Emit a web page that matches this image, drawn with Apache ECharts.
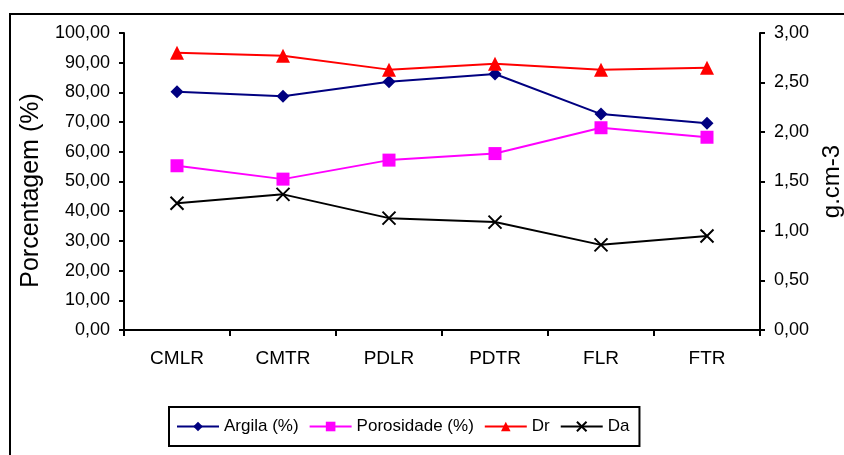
<!DOCTYPE html>
<html>
<head>
<meta charset="utf-8">
<script src="https://cdn.jsdelivr.net/npm/echarts@6/dist/echarts.min.js"></script>
<style>
  html, body { margin: 0; padding: 0; background: #fff; }
  #chart { width: 844px; height: 455px; }
</style>
</head>
<body>
<div id="chart"></div>
<script>
// Sampling sites
const categories = ['CMLR', 'CMTR', 'PDLR', 'PDTR', 'FLR', 'FTR'];

// Percentages (left axis)
const argila = [80.2, 78.7, 83.6, 86.2, 72.7, 69.6];
const porosidade = [55.3, 50.8, 57.2, 59.4, 68.1, 64.9];

// Densities in g.cm-3 (right axis)
const dr = [2.80, 2.77, 2.63, 2.69, 2.63, 2.65];
const da = [1.28, 1.37, 1.13, 1.09, 0.86, 0.95];

const FONT = '"Liberation Sans", Arial, sans-serif';
const fmt = v => v.toFixed(2).replace('.', ',');

const chart = echarts.init(document.getElementById('chart'), null, { renderer: 'canvas' });

const axisLine = { show: true, lineStyle: { color: '#000', width: 2 } };
const axisTick = { show: true, inside: false, length: 5, lineStyle: { color: '#000', width: 2 } };

chart.setOption({
  animation: false,
  backgroundColor: '#fff',
  textStyle: { fontFamily: FONT, color: '#000' },
  graphic: [{
    type: 'rect',
    shape: { x: 10, y: 14, width: 860, height: 480 },
    style: { fill: 'none', stroke: '#000', lineWidth: 2 },
    silent: true,
    z: -1
  }],
  grid: {
    left: 124, right: 84, top: 33, bottom: 125,
    containLabel: false,
    outerBoundsMode: 'none'
  },
  legend: {
    bottom: 9,
    left: 169,
    padding: [11, 10, 11, 7],
    borderColor: '#000',
    borderWidth: 2,
    itemWidth: 42,
    itemHeight: 12,
    itemGap: 10,
    textStyle: { fontFamily: FONT, fontSize: 17, color: '#000' },
    data: ['Argila (%)', 'Porosidade (%)', 'Dr', 'Da']
  },
  xAxis: {
    type: 'category',
    data: categories,
    boundaryGap: true,
    axisLine: axisLine,
    axisTick: { show: true, length: 6, lineStyle: { color: '#000', width: 2 } },
    axisLabel: { fontFamily: FONT, fontSize: 19, color: '#000', margin: 19 },
    splitLine: { show: false }
  },
  yAxis: [{
    type: 'value',
    min: 0, max: 100, interval: 10,
    position: 'left',
    name: 'Porcentagem (%)',
    nameLocation: 'middle',
    nameRotate: 90,
    nameGap: 79,
    nameTextStyle: { fontFamily: FONT, fontSize: 25, color: '#000', padding: [0, 18, 0, 0] },
    axisLine: axisLine,
    axisTick: axisTick,
    axisLabel: { fontFamily: FONT, fontSize: 18, color: '#000', margin: 14, formatter: fmt },
    splitLine: { show: false }
  }, {
    type: 'value',
    min: 0, max: 3, interval: 0.5,
    position: 'right',
    name: 'g.cm-3',
    nameLocation: 'middle',
    nameRotate: 90,
    nameGap: 58,
    nameTextStyle: { fontFamily: FONT, fontSize: 24, color: '#000' },
    axisLine: axisLine,
    axisTick: axisTick,
    axisLabel: { fontFamily: FONT, fontSize: 18, color: '#000', margin: 14, formatter: fmt },
    splitLine: { show: false }
  }],
  series: [{
    name: 'Argila (%)',
    type: 'line',
    yAxisIndex: 0,
    data: argila,
    symbol: 'diamond',
    symbolSize: 13,
    color: '#000080',
    lineStyle: { color: '#000080', width: 2 },
    itemStyle: { color: '#000080' }
  }, {
    name: 'Porosidade (%)',
    type: 'line',
    yAxisIndex: 0,
    data: porosidade,
    symbol: 'rect',
    symbolSize: 13,
    color: '#ff00ff',
    lineStyle: { color: '#ff00ff', width: 2 },
    itemStyle: { color: '#ff00ff' }
  }, {
    name: 'Dr',
    type: 'line',
    yAxisIndex: 1,
    data: dr,
    symbol: 'triangle',
    symbolSize: 14,
    color: '#ff0000',
    lineStyle: { color: '#ff0000', width: 2 },
    itemStyle: { color: '#ff0000' }
  }, {
    name: 'Da',
    type: 'line',
    yAxisIndex: 1,
    data: da,
    symbol: 'path://M0,0L10,10M10,0L0,10',
    symbolSize: 13,
    color: '#000',
    lineStyle: { color: '#000', width: 2 },
    itemStyle: { color: '#000', borderColor: '#000', borderWidth: 2 }
  }]
});
</script>
</body>
</html>
